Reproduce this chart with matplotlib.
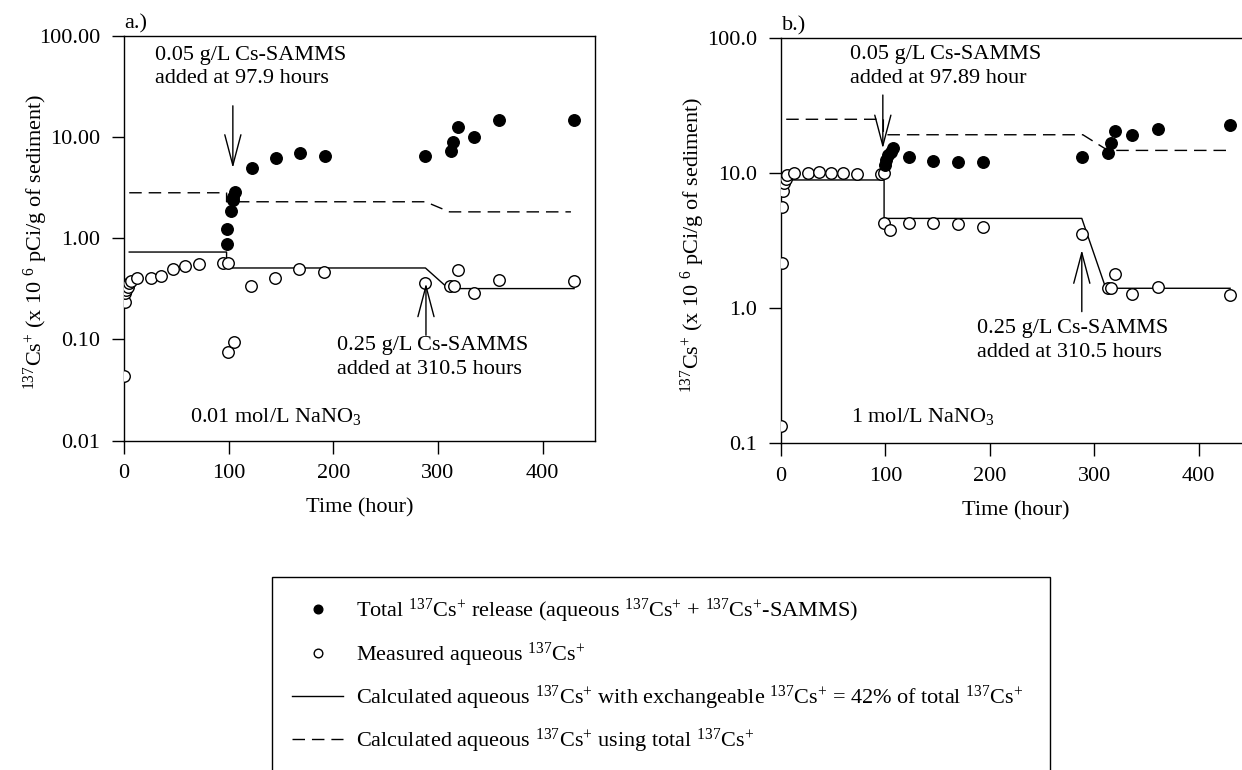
import matplotlib
matplotlib.use("Agg")
import matplotlib.pyplot as plt
from matplotlib.patches import Rectangle

plt.rcParams.update({
    "font.family": ["Liberation Serif", "DejaVu Serif"],
    "mathtext.fontset": "custom",
    "mathtext.rm": "Liberation Serif",
    "mathtext.it": "Liberation Serif:italic",
    "mathtext.bf": "Liberation Serif:bold",
    "axes.linewidth": 1.0,
    "font.size": 16,
})

# ---------------- data: panel a (0.01 mol/L NaNO3) ----------------
a_open_t = [0, 0.5, 1, 2, 3.5, 5, 7, 12, 25.5, 35.5, 46.6, 58.5, 72, 94.8, 99,
            99, 105, 121.5, 143.8, 167, 191, 288, 311, 315, 319, 334, 358.5, 430]
a_open_v = [0.044, 0.234, 0.285, 0.305, 0.33, 0.36, 0.38, 0.40, 0.40, 0.42, 0.50,
            0.53, 0.55, 0.57, 0.57, 0.075, 0.094, 0.34, 0.40, 0.50, 0.46, 0.36,
            0.34, 0.34, 0.49, 0.29, 0.39, 0.375]
a_fill_t = [98, 98.7, 102, 103.8, 104.5, 106, 122.6, 145, 168, 192, 288, 312,
            314.5, 319, 334, 358.5, 430]
a_fill_v = [0.885, 1.22, 1.86, 2.4, 2.56, 2.87, 4.9, 6.24, 7.0, 6.49, 6.53, 7.27,
            8.99, 12.6, 9.93, 14.7, 14.7]
a_calc42_t = [5, 98, 98, 288, 310, 430]
a_calc42_v = [0.73, 0.73, 0.508, 0.508, 0.318, 0.318]
a_calctot_t = [5, 98, 98, 288, 311, 427]
a_calctot_v = [2.81, 2.81, 2.29, 2.29, 1.82, 1.82]
a_yticks = [0.01, 0.1, 1, 10, 100]
a_yticklabels = ["0.01", "0.10", "1.00", "10.00", "100.00"]

# ---------------- data: panel b (1 mol/L NaNO3) ----------------
b_open_t = [0, 0.5, 1, 2, 3, 5, 6, 12, 25.5, 36, 47.4, 59, 73, 95.7, 98.7,
            98.7, 104.8, 123, 146, 169, 193, 288, 313, 316, 320, 336, 360.5, 430]
b_open_v = [0.134, 2.17, 5.57, 7.4, 8.47, 9.1, 9.67, 10.0, 10.0, 10.1, 10.0,
            10.0, 9.85, 9.85, 10.0, 4.28, 3.78, 4.28, 4.28, 4.2, 4.0, 3.52,
            1.40, 1.40, 1.79, 1.26, 1.44, 1.25]
b_fill_t = [99.7, 100.5, 102.5, 105, 107, 123, 146, 169, 193, 288, 313, 316,
            320, 336, 360.5, 430]
b_fill_v = [11.5, 12.5, 13.6, 14.4, 15.2, 13.2, 12.3, 12.0, 12.0, 13.2, 14.0,
            16.8, 20.6, 19.1, 21.2, 22.7]
b_calc42_t = [0, 98.7, 98.7, 288, 311, 430]
b_calc42_v = [8.88, 8.88, 4.61, 4.61, 1.40, 1.40]
b_calctot_t = [5, 98, 98, 289, 313, 430]
b_calctot_v = [25.0, 25.0, 19.2, 19.2, 14.7, 14.7]
b_yticks = [0.1, 1, 10, 100]
b_yticklabels = ["0.1", "1.0", "10.0", "100.0"]

xticks = [0, 100, 200, 300, 400]

# arrows marking Cs-SAMMS additions: (time, tail value, tip value)
a_arrows = [(104, 20.3, 4.93), (288.5, 0.11, 0.358)]
b_arrows = [(97.5, 37.8, 15.2), (288, 0.94, 2.69)]

CS = r"$^{137}$Cs$^{+}$"
ylabel = r"$^{137}$Cs$^{+}$ (x 10 $^{6}$ pCi/g of sediment)"
lab_total = r"Total " + CS + r" release (aqueous " + CS + r" + " + CS + r"-SAMMS)"
lab_meas = r"Measured aqueous " + CS
lab_42 = (r"Calculated aqueous " + CS + r" with exchangeable " + CS +
          r" = 42% of total " + CS)
lab_tot = r"Calculated aqueous " + CS + r" using total " + CS

W, H = 1242, 770
fig = plt.figure(figsize=(W / 100, H / 100), dpi=100)


def px_axes(left, top, width, height):
    return fig.add_axes([left / W, 1 - (top + height) / H, width / W, height / H])


DASH = (9, 5)
LSP = 1.33


def draw_panel(ax, ot, ov, ft, fv, ct, cv, tt, tv, yt, ytl, ylim, arrows):
    ax.set_yscale("log")
    ax.set_xlim(0, 450)
    ax.set_ylim(*ylim)
    l42, = ax.plot(ct, cv, color="black", lw=1.0, zorder=2)
    ltot, = ax.plot(tt, tv, color="black", lw=1.0, dashes=DASH, zorder=2)
    lo, = ax.plot(ot, ov, "o", ms=8.3, mfc="white", mec="black", mew=1.0,
                  ls="none", zorder=3)
    lf, = ax.plot(ft, fv, "o", ms=8.3, mfc="black", mec="black", ls="none",
                  zorder=4)
    ax.set_yticks(yt)
    ax.set_yticklabels(ytl)
    ax.yaxis.set_minor_locator(matplotlib.ticker.NullLocator())
    ax.set_xticks(xticks)
    ax.tick_params(direction="out", length=9, width=1.0, labelsize=16, pad=8)
    ax.set_xlabel("Time (hour)", fontsize=16, labelpad=11)
    ax.set_ylabel(ylabel, fontsize=16)
    ax.yaxis.set_label_coords(-0.158, 0.49)
    for t, tail, tip in arrows:
        ax.annotate("", xy=(t, tip), xytext=(t, tail),
                    arrowprops=dict(arrowstyle="->,head_length=22,head_width=5.8",
                                    mutation_scale=1, lw=1.0, color="black",
                                    shrinkA=0, shrinkB=0), zorder=5)
    return lf, lo, l42, ltot


ax_a = px_axes(124, 35.7, 471, 405)
handles = draw_panel(ax_a, a_open_t, a_open_v, a_fill_t, a_fill_v,
                     a_calc42_t, a_calc42_v, a_calctot_t, a_calctot_v,
                     a_yticks, a_yticklabels, (0.01, 100), a_arrows)
ax_a.text(0.0, 1.03, "a.)", transform=ax_a.transAxes, ha="left", va="center",
          fontsize=16)
ax_a.text(0.066, 0.975, "0.05 g/L Cs-SAMMS\nadded at 97.9 hours",
          transform=ax_a.transAxes, ha="left", va="top", fontsize=16,
          linespacing=LSP)
ax_a.text(0.452, 0.258, "0.25 g/L Cs-SAMMS\nadded at 310.5 hours",
          transform=ax_a.transAxes, ha="left", va="top", fontsize=16,
          linespacing=LSP)
ax_a.text(0.14, 0.046, r"0.01 mol/L NaNO$_{3}$", transform=ax_a.transAxes,
          ha="left", va="baseline", fontsize=16)

ax_b = px_axes(781, 38, 470, 405)
draw_panel(ax_b, b_open_t, b_open_v, b_fill_t, b_fill_v,
           b_calc42_t, b_calc42_v, b_calctot_t, b_calctot_v,
           b_yticks, b_yticklabels, (0.1, 100), b_arrows)
ax_b.spines["right"].set_visible(False)
ax_b.text(0.002, 1.03, "b.)", transform=ax_b.transAxes, ha="left",
          va="center", fontsize=16)
ax_b.text(0.147, 0.983, "0.05 g/L Cs-SAMMS\nadded at 97.89 hour",
          transform=ax_b.transAxes, ha="left", va="top", fontsize=16,
          linespacing=LSP)
ax_b.text(0.416, 0.306, "0.25 g/L Cs-SAMMS\nadded at 310.5 hours",
          transform=ax_b.transAxes, ha="left", va="top", fontsize=16,
          linespacing=LSP)
ax_b.text(0.149, 0.052, r"1 mol/L NaNO$_{3}$", transform=ax_b.transAxes,
          ha="left", va="baseline", fontsize=16)

# legend box
fig.patches.append(Rectangle((272 / W, -0.01), (1050 - 272) / W,
                             1 - 577 / H + 0.01, transform=fig.transFigure,
                             fill=False, edgecolor="black", lw=1.0))
fig.legend(handles, [lab_total, lab_meas, lab_42, lab_tot],
           loc="upper left", bbox_to_anchor=(292 / W, 1 - 597 / H),
           frameon=False, borderpad=0, borderaxespad=0, fontsize=16,
           handlelength=2.3, handletextpad=0.6, labelspacing=0.68,
           markerscale=0.75, numpoints=1)

fig.savefig("out.png", dpi=100)
